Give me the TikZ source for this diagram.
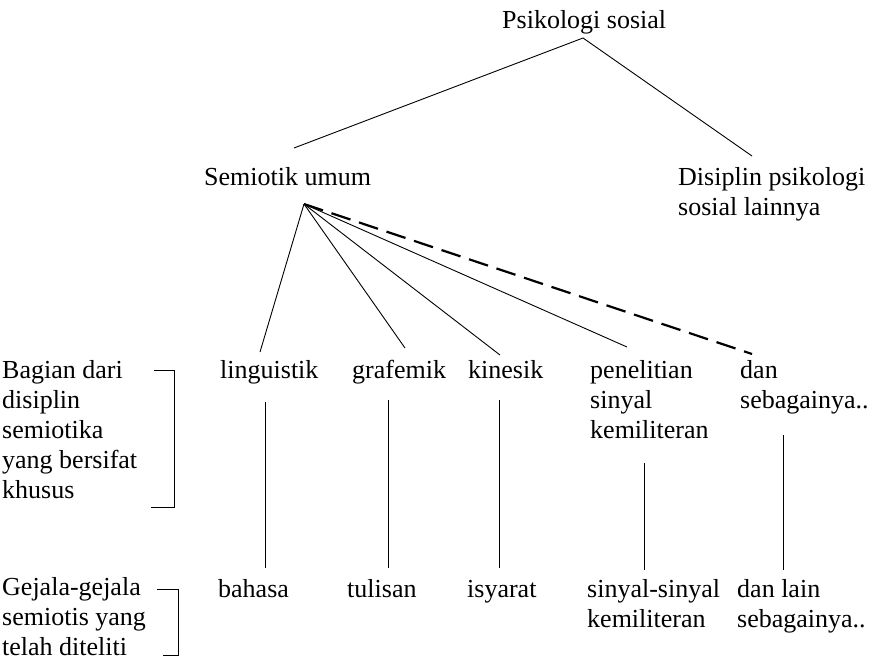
\documentclass[tikz,border=0pt]{standalone}
\usepackage{fontspec}
\setmainfont{Liberation Serif}
\begin{document}
\begin{tikzpicture}[x=1pt,y=-1pt,
  % a multi-line label is placed by the baseline of its last line
  lbl/.style={anchor=base west, inner sep=0pt, align=left,
              font=\fontsize{26}{30}\selectfont},
  link/.style={line width=0.9pt},
  dashlink/.style={line width=2.2pt, dash pattern=on 20pt off 9pt},
  bracket/.style={line width=0.9pt}]
\useasboundingbox (0,0) rectangle (881,664);

% top of the tree
\node[lbl] (psi) at (502,28) {Psikologi sosial};
\node[lbl] (sem) at (204,185) {Semiotik umum};
\node[lbl] (dis) at (678,215) {Disiplin psikologi\\sosial lainnya};

\coordinate (psiroot) at (583,38);
\coordinate (semtop) at (294,148);
\coordinate (distop) at (752,156);
\draw[link] (semtop) -- (psiroot) -- (distop);

% special semiotic disciplines
\node[lbl] (bag) at (2,498) {Bagian dari\\disiplin\\semiotika\\yang bersifat\\khusus};
\node[lbl] (ling) at (220,378) {linguistik};
\node[lbl] (graf) at (352,378) {grafemik};
\node[lbl] (kin) at (468,378) {kinesik};
\node[lbl] (pen) at (590,438) {penelitian\\sinyal\\kemiliteran};
\node[lbl] (dsb) at (740,408) {dan\\sebagainya..};

\coordinate (semroot) at (304,204);
\coordinate (lingtop) at (260,352);
\coordinate (graftop) at (405,348);
\coordinate (kintop) at (500,355);
\coordinate (pentop) at (627,347);
\coordinate (dsbtop) at (752,354);
\draw[link] (semroot) -- (lingtop);
\draw[link] (semroot) -- (graftop);
\draw[link] (semroot) -- (kintop);
\draw[link] (semroot) -- (pentop);
\draw[dashlink] (semroot) -- (dsbtop);

% bracket beside the disciplines
\coordinate (b1a) at (154,370);
\coordinate (b1b) at (174,370);
\coordinate (b1c) at (174,507);
\coordinate (b1d) at (151,507);
\draw[bracket] (b1a) -- (b1b) -- (b1c) -- (b1d);

% observed phenomena
\node[lbl] (gej) at (2,655) {Gejala-gejala\\semiotis yang\\telah diteliti};
\node[lbl] (bah) at (218,597) {bahasa};
\node[lbl] (tul) at (347,597) {tulisan};
\node[lbl] (isy) at (467,597) {isyarat};
\node[lbl] (sin) at (587,627) {sinyal-sinyal\\kemiliteran};
\node[lbl] (dll) at (737,627) {dan lain\\sebagainya..};

\coordinate (b2a) at (157,589);
\coordinate (b2b) at (178,589);
\coordinate (b2c) at (178,655);
\coordinate (b2d) at (163,655);
\draw[bracket] (b2a) -- (b2b) -- (b2c) -- (b2d);

% vertical links between the rows
\coordinate (l1) at (265,402); \coordinate (l2) at (265,568);
\coordinate (g1) at (388,400); \coordinate (g2) at (388,568);
\coordinate (k1) at (499,400); \coordinate (k2) at (499,568);
\coordinate (p1) at (644,463); \coordinate (p2) at (644,570);
\coordinate (d1) at (783,435); \coordinate (d2) at (783,570);
\draw[link] (l1) -- (l2);
\draw[link] (g1) -- (g2);
\draw[link] (k1) -- (k2);
\draw[link] (p1) -- (p2);
\draw[link] (d1) -- (d2);
\end{tikzpicture}
\end{document}
